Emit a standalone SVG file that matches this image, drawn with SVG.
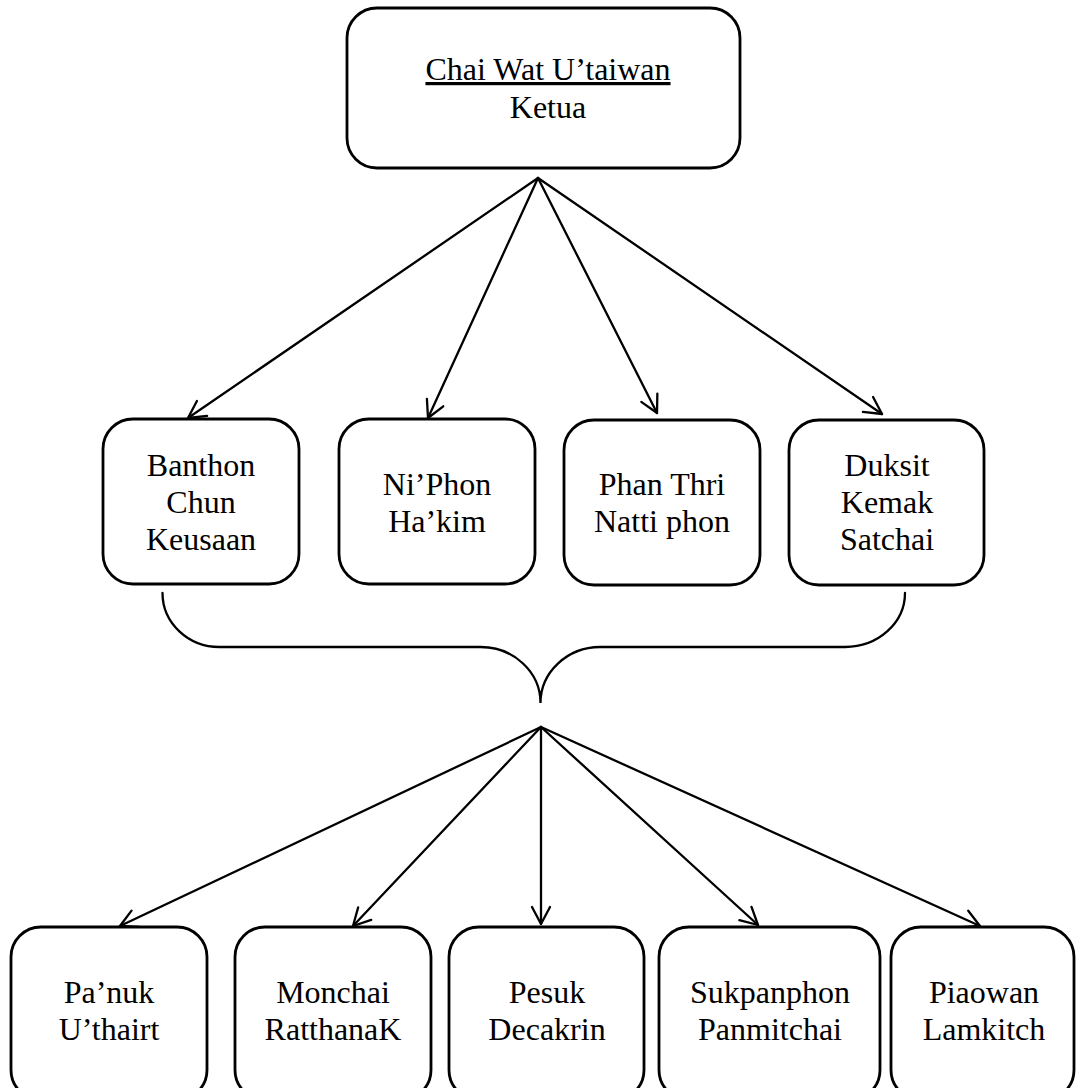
<svg xmlns="http://www.w3.org/2000/svg" width="1076" height="1088" viewBox="0 0 1076 1088">
<style>
.box{fill:#fff;stroke:#000;stroke-width:2.8}
.lbl{font-family:"Liberation Serif","Times New Roman",serif;font-size:32px;fill:#000;text-anchor:middle}
.con{fill:none;stroke:#000;stroke-width:2.3;stroke-linecap:round}
</style>
<defs>
<marker id="arr" markerUnits="userSpaceOnUse" viewBox="-22 -13 26 26" refX="0" refY="0" markerWidth="26" markerHeight="26" orient="auto">
<path d="M-17,-9 L0,0 L-17,9" fill="none" stroke="#000" stroke-width="2.3" stroke-linecap="round" stroke-linejoin="round"/>
</marker>
</defs>
<rect width="1076" height="1088" fill="#fff"/>
<g id="connectors">
<path class="con" marker-end="url(#arr)" d="M538,178 L188,418"/>
<path class="con" marker-end="url(#arr)" d="M538,178 L428,418"/>
<path class="con" marker-end="url(#arr)" d="M538,178 L657,413"/>
<path class="con" marker-end="url(#arr)" d="M538,178 L882,414"/>
<path class="con" d="M162.5,593 A57,54 0 0 0 220,647 L480,647 A60,56 0 0 1 540.5,703 A60,56 0 0 1 600,647 L845,647 A60,54 0 0 0 905,593"/>
<path class="con" marker-end="url(#arr)" d="M541,727 L120,926"/>
<path class="con" marker-end="url(#arr)" d="M541,727 L353,926"/>
<path class="con" marker-end="url(#arr)" d="M541,727 L541,924"/>
<path class="con" marker-end="url(#arr)" d="M541,727 L758,925"/>
<path class="con" marker-end="url(#arr)" d="M541,727 L980,926"/>
</g>
<g id="ketua">
<rect class="box" x="347" y="8" width="393" height="160" rx="30"/>
<text class="lbl" x="548" y="80" text-decoration="underline">Chai Wat U’taiwan</text>
<text class="lbl" x="548" y="118">Ketua</text>
</g>
<g id="banthon">
<rect class="box" x="103" y="419" width="196" height="165" rx="30"/>
<text class="lbl" x="201" y="476">Banthon</text>
<text class="lbl" x="201" y="513">Chun</text>
<text class="lbl" x="201" y="550">Keusaan</text>
</g>
<g id="niphon">
<rect class="box" x="339" y="419" width="196" height="165" rx="30"/>
<text class="lbl" x="437" y="495">Ni’Phon</text>
<text class="lbl" x="437" y="532">Ha’kim</text>
</g>
<g id="phanthri">
<rect class="box" x="564" y="420" width="196" height="165" rx="30"/>
<text class="lbl" x="662" y="495">Phan Thri</text>
<text class="lbl" x="662" y="532">Natti phon</text>
</g>
<g id="duksit">
<rect class="box" x="789" y="420" width="195" height="165" rx="30"/>
<text class="lbl" x="887" y="476">Duksit</text>
<text class="lbl" x="887" y="513">Kemak</text>
<text class="lbl" x="887" y="550">Satchai</text>
</g>
<g id="panuk">
<rect class="box" x="11" y="927" width="196" height="173" rx="30"/>
<text class="lbl" x="109" y="1003">Pa’nuk</text>
<text class="lbl" x="109" y="1040">U’thairt</text>
</g>
<g id="monchai">
<rect class="box" x="235" y="927" width="196" height="173" rx="30"/>
<text class="lbl" x="333" y="1003">Monchai</text>
<text class="lbl" x="333" y="1040">RatthanaK</text>
</g>
<g id="pesuk">
<rect class="box" x="449" y="927" width="195" height="173" rx="30"/>
<text class="lbl" x="547" y="1003">Pesuk</text>
<text class="lbl" x="547" y="1040">Decakrin</text>
</g>
<g id="sukpanphon">
<rect class="box" x="659" y="927" width="221" height="173" rx="30"/>
<text class="lbl" x="770" y="1003">Sukpanphon</text>
<text class="lbl" x="770" y="1040">Panmitchai</text>
</g>
<g id="piaowan">
<rect class="box" x="891" y="927" width="183" height="173" rx="30"/>
<text class="lbl" x="984" y="1003">Piaowan</text>
<text class="lbl" x="984" y="1040">Lamkitch</text>
</g>
</svg>
